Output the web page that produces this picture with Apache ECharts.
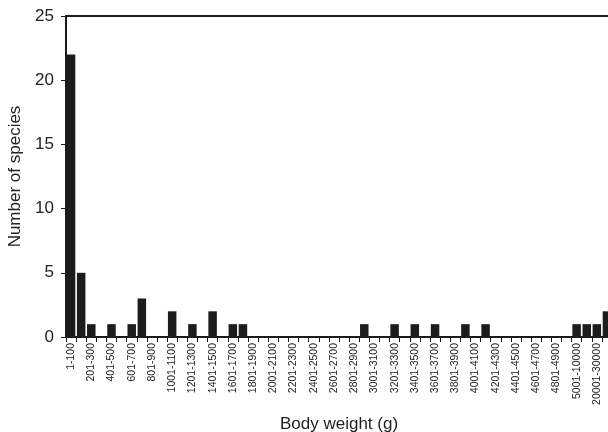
<!DOCTYPE html>
<html>
<head>
<meta charset="utf-8">
<script src="https://cdn.jsdelivr.net/npm/echarts@6/dist/echarts.min.js"></script>
<style>
  html, body { margin: 0; padding: 0; background: #fff; }
  #chart { width: 608px; height: 432px; }
</style>
</head>
<body>
<div id="chart"></div>
<script>
// weight classes (g)
const categories = [
  '1-100', '101-200', '201-300', '301-400', '401-500', '501-600', '601-700', '701-800',
  '801-900', '901-1000', '1001-1100', '1101-1200', '1201-1300', '1301-1400', '1401-1500',
  '1501-1600', '1601-1700', '1701-1800', '1801-1900', '1901-2000', '2001-2100', '2101-2200',
  '2201-2300', '2301-2400', '2401-2500', '2501-2600', '2601-2700', '2701-2800', '2801-2900',
  '2901-3000', '3001-3100', '3101-3200', '3201-3300', '3301-3400', '3401-3500', '3501-3600',
  '3601-3700', '3701-3800', '3801-3900', '3901-4000', '4001-4100', '4101-4200', '4201-4300',
  '4301-4400', '4401-4500', '4501-4600', '4601-4700', '4701-4800', '4801-4900', '4901-5000',
  '5001-10000', '10001-20000', '20001-30000', '>30000'
];

// number of species per class
const species = [
  22, 5, 1, 0, 1, 0, 1, 3, 0, 0,
  2, 0, 1, 0, 2, 0, 1, 1, 0, 0,
  0, 0, 0, 0, 0, 0, 0, 0, 0, 1,
  0, 0, 1, 0, 1, 0, 1, 0, 0, 1,
  0, 1, 0, 0, 0, 0, 0, 0, 0, 0,
  1, 1, 1, 2
];

const yTicks = [0, 5, 10, 15, 20, 25];

const chart = echarts.init(document.getElementById('chart'));
const font = 'Liberation Sans, Arial, sans-serif';

chart.setOption({
  animation: false,
  backgroundColor: '#fff',
  grid: { left: 66, right: -4, top: 16, bottom: 95, containLabel: false, outerBoundsMode: 'none' },
  xAxis: [
    {
      type: 'category',
      data: categories,
      boundaryGap: true,
      name: 'Body weight (g)',
      nameLocation: 'middle',
      nameGap: 79,
      nameTextStyle: { fontFamily: font, fontSize: 17, color: '#222' },
      axisLine: { lineStyle: { color: '#1a1a1a', width: 2 } },
      axisTick: { show: true, interval: 0, length: 5, lineStyle: { color: '#1a1a1a', width: 1 } },
      axisLabel: {
        interval: 1,
        rotate: 90,
        margin: 6,
        fontFamily: font,
        fontSize: 10.5,
        color: '#222'
      }
    },
    {
      type: 'category',
      data: categories,
      position: 'top',
      axisLine: { show: true, lineStyle: { color: '#1a1a1a', width: 2 } },
      axisTick: { show: false },
      axisLabel: { show: false }
    }
  ],
  yAxis: {
    type: 'value',
    min: yTicks[0],
    max: yTicks[yTicks.length - 1],
    interval: 5,
    name: 'Number of species',
    nameLocation: 'middle',
    nameGap: 38,
    nameTextStyle: { fontFamily: font, fontSize: 17, color: '#222' },
    axisLine: { show: true, lineStyle: { color: '#1a1a1a', width: 2 } },
    axisTick: { show: true, length: 5, lineStyle: { color: '#1a1a1a', width: 1 } },
    axisLabel: { margin: 12, fontFamily: font, fontSize: 17, color: '#222' },
    splitLine: { show: false }
  },
  series: [
    {
      type: 'bar',
      data: species,
      barCategoryGap: '16%',
      itemStyle: { color: '#1c1c1c' }
    }
  ]
});
</script>
</body>
</html>
